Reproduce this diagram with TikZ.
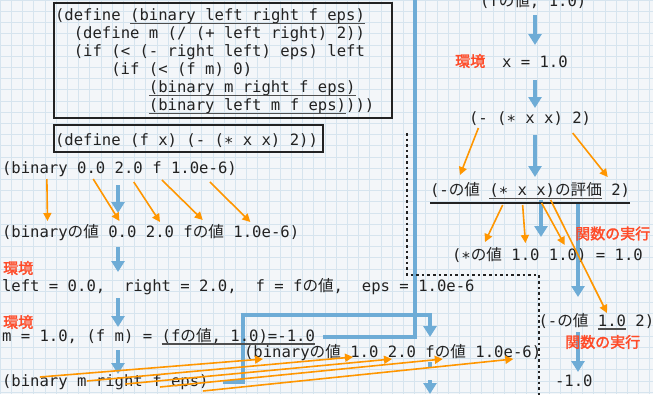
\documentclass[tikz,border=0pt]{standalone}
\usepackage{fontspec}
\setmonofont{DejaVu Sans Mono}
\newfontfamily\jp{Noto Sans CJK JP}
\newfontfamily\jpbf[FakeBold=2]{Noto Sans CJK JP}
\usetikzlibrary{arrows.meta}
\usetikzlibrary{positioning}

\definecolor{ink}{RGB}{34,34,34}
\definecolor{paper}{RGB}{243,246,249}
\definecolor{gridline}{RGB}{214,228,238}
\definecolor{flowblue}{RGB}{110,172,214}
\definecolor{argorange}{RGB}{255,150,0}
\definecolor{envred}{RGB}{255,75,40}

\newcommand{\jt}[1]{{\jp #1}}

\pgfdeclarelayer{background}
\pgfsetlayers{background,main}

\tikzset{
  code/.style={font=\ttfamily\fontsize{15.6}{18}\selectfont, text=ink,
    inner sep=0pt, outer sep=0pt, text height=11pt, text depth=3pt},
  env/.style={font=\jpbf\fontsize{15}{15}\selectfont, text=envred,
    inner sep=0pt, anchor=west},
  flow/.style={draw=flowblue, line width=4.2pt, -{Triangle[width=13pt,length=11pt]}},
  arg/.style={draw=argorange, line width=1.6pt, -{Triangle[width=8pt,length=8pt]}},
  uline/.style={draw=ink!80, line width=1.2pt},
  frame/.style={draw=ink, line width=1.3pt},
  dots/.style={draw=ink, line width=2pt, dash pattern=on 2.6pt off 3pt},
}

\begin{document}
\begin{tikzpicture}[x=1pt, y=-1pt, node distance=0pt and 9.39pt]
  \useasboundingbox (0,0) rectangle (653,394);
  \begin{pgfonlayer}{background}
    \fill[paper] (0,0) rectangle (653,394);
    \draw[gridline, line width=0.5pt, step=11.2pt] (0,0) grid (653,394);
  \end{pgfonlayer}

  % the two definitions
  \draw[frame] (54,3) rectangle (392,118);
  \node[code, anchor=base west] (d1a) at (55,20.5) {(define};
  \node[code, right=of d1a] (d1b) {(binary left right f eps)};
  \node[code, anchor=base west] (d2) at (73.8,38.5) {(define m (/ (+ left right) 2))};
  \node[code, anchor=base west] (d3) at (73.8,56.5) {(if (< (- right left) eps) left};
  \node[code, anchor=base west] (d4) at (111.3,74.5) {(if (< (f m) 0)};
  \node[code, anchor=base west] (d5) at (148.9,92.5) {(binary m right f eps)};
  \node[code, anchor=base west] (d6a) at (148.9,110.5) {(binary left m f eps)};
  \node[code, right=0pt of d6a] (d6b) {)))};
  \draw[uline] (d1b.south west) -- (d1b.south east);
  \draw[uline] (d5.south west) -- (d5.south east);
  \draw[uline] (d6a.south west) -- (d6a.south east);

  \draw[frame] (54,125) rectangle (323,152);
  \node[code, anchor=base west] (fdef) at (55,145) {(define (f x) (- (∗ x x) 2))};

  % left column
  \coordinate (colL) at (118,0);
  \node[code, anchor=base west] (t1a) at (2,173) {(binary};
  \node[code, right=of t1a] (t1b) {0.0};
  \node[code, right=of t1b] (t1c) {2.0};
  \node[code, right=of t1c] (t1d) {f};
  \node[code, right=of t1d] (t1e) {1.0e-6)};

  \node[code, anchor=base west] (t2a) at (2,237) {(binary\jt{の値}};
  \node[code, right=of t2a] (t2b) {0.0};
  \node[code, right=of t2b] (t2c) {2.0};
  \node[code, right=of t2c] (t2d) {f\jt{の値}};
  \node[code, right=of t2d] (t2e) {1.0e-6)};

  \node[env] (env1) at (3,268) {環境};
  \node[code, anchor=base west] (t3) at (2,291)
    {left = 0.0,~ right = 2.0,~ f = f\jt{の値},~ eps = 1.0e-6};

  \node[env] (env2) at (3,322) {環境};
  \node[code, anchor=base west] (t4a) at (2,341) {m = 1.0, (f m) =};
  \node[code, right=of t4a] (t4b) {(f\jt{の値}, 1.0)=-1.0};
  \draw[uline] (t4b.south west) -- (t4b.south east);

  \node[code, anchor=base west] (t5a) at (2,386) {(binary};
  \node[code, right=of t5a] (t5b) {m};
  \node[code, right=of t5b] (t5c) {right};
  \node[code, right=of t5c] (t5d) {f};
  \node[code, right=of t5d] (t5e) {eps)};

  \coordinate (colC) at (430,0);
  \node[code, anchor=base west] (t6a) at (244,357) {(binary\jt{の値}};
  \node[code, right=of t6a] (t6b) {1.0};
  \node[code, right=of t6b] (t6c) {2.0};
  \node[code, right=of t6c] (t6d) {f\jt{の値}};
  \node[code, right=of t6d] (t6e) {1.0e-6)};

  % right column
  \coordinate (colR) at (535,0);
  \coordinate (colM) at (541,0);
  \coordinate (colS) at (578,0);
  \node[code, anchor=base west] (r0) at (480,6.5) {(f\jt{の値}, 1.0)};
  \node[env] (env3) at (455,61) {環境};
  \node[code, anchor=base west] (r1) at (502,67) {x = 1.0};

  \node[code, anchor=base west] (r2a) at (469,123) {(-};
  \node[code, right=of r2a] (r2b) {(∗ x x)};
  \node[code, right=of r2b] (r2c) {2)};

  \node[code, anchor=base west] (r3a) at (430,195.5) {(-\jt{の値}};
  \node[code, right=of r3a] (r3b) {(∗ x x)\jt{の評価}};
  \node[code, right=of r3b] (r3c) {2)};
  \draw[uline] (r3b.south west) -- (r3b.south east);
  \draw[frame] ([shift={(0,4.5)}]r3a.south west) -- ([shift={(0,4.5)}]r3c.south east);

  \node[env] (exec1) at (575,233.5) {関数の実行};
  \node[code, anchor=base west] (r4a) at (452,260) {(∗\jt{の値}};
  \node[code, right=of r4a] (r4b) {1.0};
  \node[code, right=of r4b] (r4c) {1.0)};
  \node[code, right=of r4c] (r4d) {= 1.0};

  \node[code, anchor=base west] (r5a) at (538.5,326) {(-\jt{の値}};
  \node[code, right=of r5a] (r5b) {1.0};
  \node[code, right=of r5b] (r5c) {2)};
  \draw[uline] (r5b.south west) -- (r5b.south east);
  \node[env] (exec2) at (565,342) {関数の実行};
  \node[code, anchor=base west] (r6) at (555,386) {-1.0};

  % evaluation steps
  \begin{pgfonlayer}{background}
    \draw[flow, shorten <=9pt, shorten >=13pt] (t1a.south -| colL) -- (t2a.north -| colL);
    \draw[flow, shorten <=7pt, shorten >=8pt] (t2a.south -| colL) -- (t3.north -| colL);
    \draw[flow, shorten <=4pt, shorten >=3pt] (t3.south -| colL) -- (t4a.north -| colL);
    \draw[flow, shorten <=6pt, shorten >=1pt] (t4a.south -| colL) -- (t5a.north -| colL);
    \draw[flow] ([xshift=14pt]t5e.east) -| (243,315) -| (430,337);
    \draw[flow, -] ([xshift=8pt]t4b.east) -| (415,-5);
    \draw[flow, dash pattern=on 6pt off 12pt, shorten <=2pt] (t6d.south -| colC) -- ++(0,34);

    \draw[flow, shorten <=5.5pt, shorten >=11pt] (r0.south -| colR) -- (r1.north -| colR);
    \draw[flow, shorten <=10pt, shorten >=4pt] (r1.south -| colR) -- (r2a.north -| colR);
    \draw[flow, shorten <=9pt, shorten >=7.5pt] (r2a.south -| colR) -- (r3a.north -| colR);
    \draw[flow, shorten <=1.5pt, shorten >=12pt] (r3a.south -| colM) -- (r4a.north -| colM);
    \draw[flow, shorten <=4.5pt, shorten >=18pt] (r3a.south -| colS) -- (r5a.north -| colS);
    \draw[flow, shorten <=3pt, shorten >=3pt] (r5a.south -| colS) -- (r6.north -| colS);
  \end{pgfonlayer}

  \draw[dots] (407,133) |- (539,275) -- (539,400);

  % arguments
  \draw[arg] ([shift={(12,3)}]t1a.south) -- ([shift={(-3,-5)}]t2a.north);
  \draw[arg] ([shift={(2,3)}]t1b.south) -- ([shift={(-3,-5)}]t2b.north);
  \draw[arg] ([shift={(5,6)}]t1c.south) -- ([shift={(0,-4)}]t2c.north);
  \draw[arg] ([shift={(5,4)}]t1d.south) -- ([shift={(-1,-6)}]t2d.north);
  \draw[arg] ([shift={(6,6)}]t1e.south) -- ([shift={(-16,-4)}]t2e.north);

  \draw[arg] ([shift={(5,-5)}]t5a.center) -- ([shift={(-29.5,6)}]t6a.center);
  \draw[arg] ([shift={(5,-1)}]t5b.center) -- ([shift={(-11.4,4)}]t6b.center);
  \draw[arg] ([shift={(6,2)}]t5c.center) -- ([shift={(-10,6)}]t6c.center);
  \draw[arg] ([shift={(3,5)}]t5d.center) -- ([shift={(-3,6)}]t6d.center);
  \draw[arg] ([shift={(13,9)}]t5e.center) -- ([shift={(5,6)}]t6e.center);

  \draw[arg] ([shift={(0,2)}]r2a.south) -- ([shift={(5,-9.5)}]r3a.north);
  \draw[arg] ([shift={(-9,7)}]r2c.south) -- ([shift={(-13,-7.5)}]r3c.north);
  \draw[arg] ([shift={(-43,6.5)}]r3b.south) -- ([shift={(8,-7)}]r4a.north);
  \draw[arg] ([shift={(-23,6.5)}]r3b.south) -- ([shift={(0,-6)}]r4b.north);
  \draw[arg] ([shift={(-4,4.5)}]r3b.south) -- ([shift={(-3,-4)}]r4c.north);
  \draw[arg] ([shift={(5,1.5)}]r3b.south) -- ([shift={(-5,-2)}]r5b.north);
\end{tikzpicture}
\end{document}
